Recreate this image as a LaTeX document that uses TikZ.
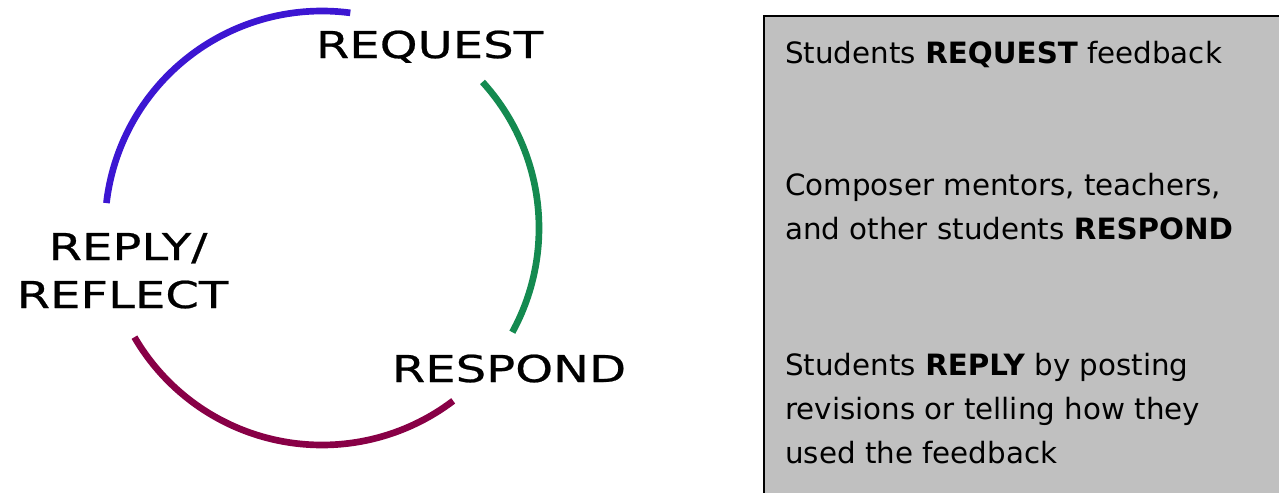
\documentclass[tikz,border=0pt]{standalone}
\usepackage{fontspec}
\usepackage{xcolor}
\setmainfont{DejaVu Sans}
\newfontfamily\cyclefont[FakeStretch=1.3,FakeBold=0.6]{DejaVu Sans}
\definecolor{reqblue}{RGB}{60,22,210}
\definecolor{respgreen}{RGB}{20,138,80}
\definecolor{replypurple}{RGB}{136,0,70}
\definecolor{panelgray}{RGB}{192,192,192}
\tikzset{
  cyclearc/.style={line width=5pt},
  cyclelabel/.style={inner sep=0pt, anchor=base, font=\cyclefont\fontsize{27.75pt}{33pt}\selectfont},
  paneltext/.style={inner sep=0pt, anchor=base west, align=left, font=\fontsize{22pt}{33pt}\selectfont}
}

\begin{document}
\begin{tikzpicture}[x=0.75pt,y=0.75pt,yscale=-1,xscale=1]
\useasboundingbox (0,0) rectangle (1279,493);

%Curve Lines [blue, request]
\draw [cyclearc, color=reqblue, shift={(322,228)}] (-82.5:217) arc [start angle=-82.5, end angle=-173.4, radius=217];
%Curve Lines [green, respond]
\draw [cyclearc, color=respgreen, shift={(322,228)}] (-42.3:217) arc [start angle=-42.3, end angle=28.7, radius=217];
%Curve Lines [purple, reply]
\draw [cyclearc, color=replypurple, shift={(322,228)}] (149.8:217) arc [start angle=149.8, end angle=52.8, radius=217];

% Text Node
\node [cyclelabel] (request) at (429.5,58) {REQUEST};
% Text Node
\node [cyclelabel] (respond) at (509,382) {RESPOND};
% Text Node
\node [cyclelabel] (reply) at (128,260) {REPLY/};
% Text Node
\node [cyclelabel] (reflect) at (122.5,308) {REFLECT};

%Shape: Rectangle [grey panel]
\begin{scope}
\clip (0,0) rectangle (1279,493);
\draw [line width=1.5, fill=panelgray] (764,16) -- (1290,16) -- (1290,510) -- (764,510) -- cycle ;
\end{scope}

% Text Node
\node [paneltext] (askline) at (785,63) {Students \textbf{REQUEST} feedback};
% Text Node
\node [paneltext] (answerline) at (785,239) {Composer mentors, teachers,\\and other students \textbf{RESPOND}};
% Text Node
\node [paneltext] (replyline) at (785,463) {Students \textbf{REPLY} by posting\\revisions or telling how they\\used the feedback};

\end{tikzpicture}
\end{document}
